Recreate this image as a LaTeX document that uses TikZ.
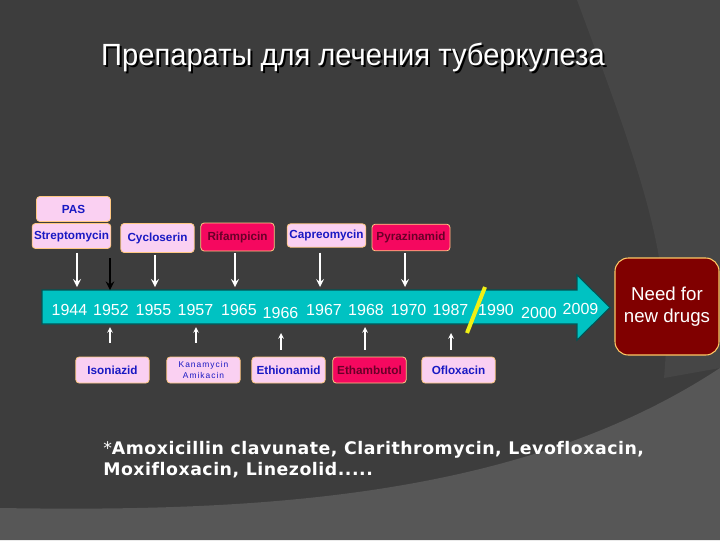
\documentclass[tikz,border=0pt]{standalone}
\usepackage{fontspec}
\setmainfont{Liberation Sans}
\newfontfamily\notefont[Ligatures=NoCommon]{DejaVu Sans}
\usepackage{xcolor}
\usepackage{tikz}
\usetikzlibrary{arrows,positioning,calc}
\definecolor{bgdark}{RGB}{61, 61, 61}
\definecolor{bgmid}{RGB}{70, 70, 70}
\definecolor{bglight}{RGB}{87, 87, 87}
\definecolor{barcyan}{RGB}{0, 194, 194}
\definecolor{baredge}{RGB}{0, 85, 85}
\definecolor{boxpink}{RGB}{250, 208, 242}
\definecolor{boxedge}{RGB}{255, 200, 130}
\definecolor{drugblue}{RGB}{25, 25, 195}
\definecolor{keyred}{RGB}{245, 8, 95}
\definecolor{keytext}{RGB}{105, 0, 40}
\definecolor{needred}{RGB}{128, 0, 0}
\definecolor{neededge}{RGB}{255, 200, 100}
\definecolor{slashyellow}{RGB}{240, 240, 20}

\tikzset{
  drugbox/.style={draw=boxedge, fill=boxpink, line width=0.6pt, rounded corners=2.5pt,
    text=drugblue, font=\bfseries\fontsize{8.8}{10}\selectfont,
    minimum width=55pt, minimum height=19.5pt, inner sep=0.5pt},
  keybox/.style={drugbox, fill=keyred, text=keytext},
  yearlabel/.style={text=white, font=\fontsize{12}{14}\selectfont, inner sep=0pt},
  downarrow/.style={->, draw=white, line width=1.6pt},
  uparrow/.style={->, draw=white, line width=0.9pt},
  titletext/.style={anchor=base, text=white, font=\fontsize{23}{27}\selectfont},
}

\begin{document}
\begin{tikzpicture}[x=0.75pt, y=-0.75pt, >=stealth]
    \useasboundingbox (0,0) rectangle (720,540);
    % Background
    \fill[bgdark] (0,0) rectangle (720,540);
    \fill[bgmid] (577,0) .. controls (640,170) and (675,260) .. (664,378) -- (720,368) -- (720,0) -- cycle;
    \fill[bglight] (0,508) .. controls (250,512) and (520,500) .. (720,368) -- (720,540) -- (0,540) -- cycle;

    % Title
    \node[titletext, text=black] (titleshadow) at (355,67) {\scalebox{0.95}[1]{Препараты для лечения туберкулеза}};
    \node[titletext] (title) at (353,65) {\scalebox{0.95}[1]{Препараты для лечения туберкулеза}};

    % Timeline arrow
    \filldraw[fill=barcyan, draw=baredge, line width=0.8pt] (42,290) -- (577,290) -- (577,275) -- (610,307.5) -- (577,340) -- (577,324) -- (42,324) -- cycle;
    \coordinate (bartop) at (42,290);
    \coordinate (barbot) at (42,324);

    % Years
    \node[yearlabel] (y1944) at (69.5,310) {1944};
    \node[yearlabel] (y1952) at (111,310) {1952};
    \node[yearlabel] (y1955) at (153.5,310) {1955};
    \node[yearlabel] (y1957) at (195.5,310) {1957};
    \node[yearlabel] (y1965) at (239,310) {1965};
    \node[yearlabel] (y1966) at (280.5,312.5) {1966};
    \node[yearlabel] (y1967) at (324,310) {1967};
    \node[yearlabel] (y1968) at (366,310) {1968};
    \node[yearlabel] (y1970) at (408.5,310) {1970};
    \node[yearlabel] (y1987) at (450.5,310) {1987};
    \node[yearlabel] (y1990) at (496,310) {1990};
    \node[yearlabel] (y2000) at (539,312.5) {2000};
    \node[yearlabel] (y2009) at (580.5,308.5) {2009};

    % Break in the timeline
    \draw[slashyellow, line width=3pt] (485,287) -- (467,333);

    % Drugs above the timeline
    \node[drugbox, minimum width=55.5pt, minimum height=18.75pt] (pas) at (73.5,209) {PAS};
    \node[drugbox, minimum width=59pt, minimum height=18.75pt] (strep) at (71.5,236) {Streptomycin};
    \node[drugbox, minimum height=21.75pt] (cyclo) at (157.5,238) {Cycloserin};
    \node[keybox, minimum height=21pt] (rif) at (237.5,237) {Rifampicin};
    \node[drugbox, minimum width=59pt, minimum height=17.5pt] (capreo) at (326.5,235.5) {Capreomycin};
    \node[keybox, minimum width=58.5pt, minimum height=20pt] (pyraz) at (411,237.5) {Pyrazinamid};

    % Drugs below the timeline
    \node[drugbox] (iso) at (112.5,370) {Isoniazid};
    \node[drugbox, font=\fontsize{6.3}{8}\selectfont\addfontfeature{LetterSpace=12}, align=center] (kana) at (203.5,370) {Kanamycin\\Amikacin};
    \node[drugbox] (ethio) at (288.5,370) {Ethionamid};
    \node[keybox] (ethamb) at (369.5,370) {Ethambutol};
    \node[drugbox] (oflox) at (458.5,370) {Ofloxacin};

    % Need for new drugs
    \node[draw=neededge, fill=needred, line width=0.8pt, rounded corners=10pt, minimum width=78pt, minimum height=72.75pt,
      text=white, align=center, font=\fontsize{14}{16}\selectfont] (need) at (667,306.5) {Need for\\new drugs};

    % Arrows down
    \draw[downarrow] ($(strep.south)+(5.5,4)$) -- ($(strep.south |- bartop)+(5.5,-3)$);
    \coordinate (blackstart) at (110,258);
    \draw[->, line width=1.8pt, black] (blackstart) -- (blackstart |- bartop);
    \draw[downarrow] ($(cyclo.south)+(-2.5,2)$) -- ($(cyclo.south |- bartop)+(-2.5,-3)$);
    \draw[downarrow] ($(rif.south)+(-2.5,2)$) -- ($(rif.south |- bartop)+(-2.5,-3)$);
    \draw[downarrow] ($(capreo.south)+(-6.5,5)$) -- ($(capreo.south |- bartop)+(-6.5,-3)$);
    \draw[downarrow] ($(pyraz.south)+(-6,2)$) -- ($(pyraz.south |- bartop)+(-6,-3)$);

    % Arrows up
    \draw[uparrow] ($(iso.north)+(-2.5,-14)$) -- ($(iso.north |- barbot)+(-2.5,3)$);
    \draw[uparrow] ($(kana.north)+(-7.5,-14)$) -- ($(kana.north |- barbot)+(-7.5,3)$);
    \draw[uparrow] ($(ethio.north)+(-7.5,-7)$) -- ($(ethio.north |- barbot)+(-7.5,9)$);
    \draw[uparrow] ($(ethamb.north)+(-4.5,-7)$) -- ($(ethamb.north |- barbot)+(-4.5,3)$);
    \draw[uparrow] ($(oflox.north)+(-7.5,-7)$) -- ($(oflox.north |- barbot)+(-7.5,9)$);

    % Other drugs
    \node[anchor=north west, inner sep=0pt, align=left, text=white, font=\notefont\bfseries\fontsize{13}{16}\selectfont\addfontfeature{LetterSpace=3}] (note) at (103,441)
      {{\mdseries*}Amoxicillin clavunate, Clarithromycin, Levofloxacin,\\Moxifloxacin, Linezolid.....};
\end{tikzpicture}
\end{document}
